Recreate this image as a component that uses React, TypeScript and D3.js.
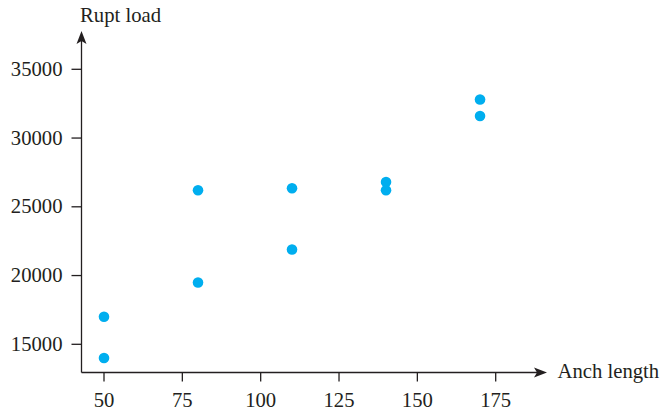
import React from "react";
import * as d3 from "d3";

const anchLength = [50, 50, 80, 80, 110, 110, 140, 140, 170, 170];
const ruptLoad = [17000, 14000, 26200, 19500, 26350, 21900, 26800, 26200, 32800, 31600];
const xTicks = [50, 75, 100, 125, 150, 175];
const yTicks = [15000, 20000, 25000, 30000, 35000];

const W = 665;
const H = 410;
const ink = "#231f20";
const dotColor = "#00aeef";
const font = "'Liberation Serif', 'Times New Roman', serif";

export default function App() {
  const x = d3.scaleLinear().domain([50, 175]).range([104, 495.7]);
  const y = d3.scaleLinear().domain([15000, 35000]).range([344.3, 69.3]);
  const axisX = 81.5;
  const axisY = 372.5;
  const xEnd = 547;
  const yTop = 31;
  return (
    <svg width={W} height={H} style={{ position: "absolute", left: 0, top: 0 }} fontFamily={font}>
      <line x1={axisX} y1={axisY} x2={xEnd - 8} y2={axisY} stroke={ink} strokeWidth={1.3} />
      <line x1={axisX} y1={axisY} x2={axisX} y2={yTop + 8} stroke={ink} strokeWidth={1.3} />
      <path d={`M${xEnd},${axisY} L${xEnd - 13},${axisY - 5} L${xEnd - 10},${axisY} L${xEnd - 13},${axisY + 5} Z`} fill={ink} />
      <path d={`M${axisX},${yTop} L${axisX - 5},${yTop + 13} L${axisX},${yTop + 10} L${axisX + 5},${yTop + 13} Z`} fill={ink} />
      {xTicks.map((t) => (
        <g key={"x" + t}>
          <line x1={x(t)} x2={x(t)} y1={axisY} y2={axisY + 9} stroke={ink} strokeWidth={1.3} />
          <text x={x(t)} y={406.5} textAnchor="middle" fontSize={20.7} fill={ink}>{t}</text>
        </g>
      ))}
      {yTicks.map((t) => (
        <g key={"y" + t}>
          <line x1={axisX - 10} x2={axisX} y1={y(t)} y2={y(t)} stroke={ink} strokeWidth={1.3} />
          <text x={62.5} y={y(t) + 6.6} textAnchor="end" fontSize={20.7} fill={ink}>{t}</text>
        </g>
      ))}
      <text x={80} y={22} fontSize={20.7} fill={ink}>Rupt load</text>
      <text x={557.5} y={377.5} fontSize={20.7} fill={ink}>Anch length</text>
      {anchLength.map((a, i) => (
        <circle key={i} cx={x(a)} cy={y(ruptLoad[i])} r={5.3} fill={dotColor} />
      ))}
    </svg>
  );
}
